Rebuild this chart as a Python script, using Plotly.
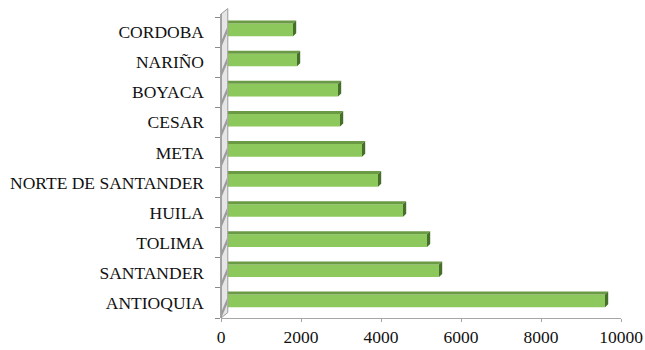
import plotly.graph_objects as go

# Departments (bottom to top) and their totals
departments = ["ANTIOQUIA", "SANTANDER", "TOLIMA", "HUILA", "NORTE DE SANTANDER",
               "META", "CESAR", "BOYACA", "NARIÑO", "CORDOBA"]
totals = [9600, 5450, 5150, 4550, 3925, 3525, 2975, 2925, 1900, 1800]

x_ticks = [0, 2000, 4000, 6000, 8000, 10000]

FRONT = "#8dc85d"
TOP = "#6a9a43"
SIDE = "#456f2a"
FONT = "Liberation Serif"

# bar geometry in axis units
bar_w = 0.42
bar_shift = 0.07
depth_x = 80      # value units of the 3D side face
depth_y = 0.10    # category units of the 3D top face

fig = go.Figure()
fig.add_trace(go.Bar(
    y=departments, x=totals, orientation="h",
    width=bar_w, offset=-bar_w / 2 + bar_shift,
    marker=dict(color=FRONT, line=dict(width=0)),
    hoverinfo="x+y",
))

shapes = []
# top and right faces of each bar, built from the bar values
for i, v in enumerate(totals):
    y0 = i - bar_w / 2 + bar_shift
    y1 = i + bar_w / 2 + bar_shift
    shapes.append(dict(
        type="path", xref="x", yref="y",
        path=f"M 0 {y1} L {v} {y1} L {v + depth_x} {y1 + depth_y} L {depth_x} {y1 + depth_y} Z",
        fillcolor=TOP, line=dict(width=0), layer="above"))
    shapes.append(dict(
        type="path", xref="x", yref="y",
        path=f"M {v} {y0} L {v + depth_x} {y0 + depth_y} L {v + depth_x} {y1 + depth_y} L {v} {y1} Z",
        fillcolor=SIDE, line=dict(width=0), layer="above"))

# side wall along the category axis
wall_w = 0.017
wall_rise = 0.018
shapes.append(dict(
    type="path", xref="paper", yref="paper",
    path=f"M 0 0 L {wall_w} {wall_rise} L {wall_w} {1 + wall_rise + 0.01} L 0 {1.01} Z",
    fillcolor="#e6e6e6", line=dict(color="#9a9a9a", width=1), layer="above"))
n = len(departments)
for k in range(n):
    yb = k / n
    shapes.append(dict(
        type="path", xref="paper", yref="paper",
        path=f"M 0.002 {yb + 0.004} L {wall_w - 0.002} {yb + 0.045} L {wall_w - 0.002} {yb + 0.065} L 0.002 {yb + 0.024} Z",
        fillcolor="#9c9c9c", line=dict(width=0), layer="above"))
shapes.append(dict(type="line", xref="paper", yref="paper", x0=0, x1=0, y0=0, y1=1.01,
                   line=dict(color="#8a8a8a", width=1.2), layer="above"))

fig.update_layout(
    width=645, height=350,
    margin=dict(l=221, r=24, t=17, b=32, autoexpand=False),
    paper_bgcolor="white", plot_bgcolor="white",
    showlegend=False, shapes=shapes,
    font=dict(family=FONT, size=17.5, color="#111111"),
    bargap=0.5,
)
fig.update_xaxes(
    range=[0, 10000], tickvals=x_ticks, ticktext=[str(t) for t in x_ticks],
    showgrid=False, zeroline=False, automargin=False,
    showline=True, linecolor="#a6a6a6", linewidth=1.2,
    ticks="outside", ticklen=3, tickcolor="#a6a6a6",
    ticklabelstandoff=0,
)
fig.update_yaxes(
    type="category", categoryorder="array", categoryarray=departments,
    range=[-0.5, n - 0.5], automargin=False,
    showgrid=False, zeroline=False, showline=False,
    ticks="outside", ticklen=5, tickcolor="#8a8a8a", tickson="boundaries",
    ticklabelstandoff=16,
)

fig.write_html("out.html")
